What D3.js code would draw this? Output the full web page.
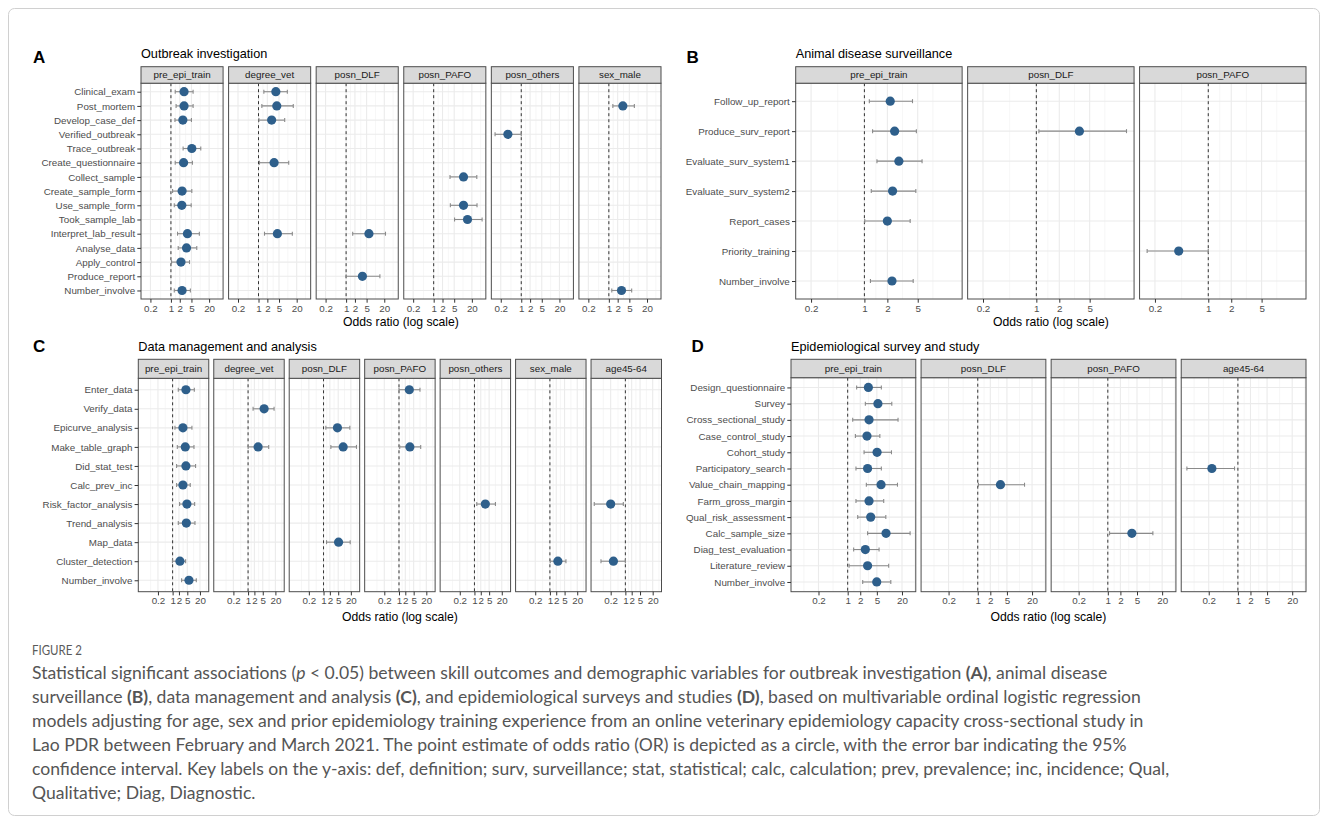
<!DOCTYPE html>
<html>
<head>
<meta charset="utf-8">
<script src="https://cdn.jsdelivr.net/npm/d3@7"></script>
<style>
  body { margin: 0; background: #fff; }
  svg text { font-family: "Liberation Sans", Arial, sans-serif; }
</style>
</head>
<body>
<svg id="fig" width="1328" height="824"></svg>
<script>
// x breaks shared by every facet (log scale)
const oddsBreaks = [0.2, 1, 2, 5, 20];

// A: outbreak investigation
const outbreakSkills = ['Clinical_exam', 'Post_mortem', 'Develop_case_def', 'Verified_outbreak',
  'Trace_outbreak', 'Create_questionnaire', 'Collect_sample', 'Create_sample_form',
  'Use_sample_form', 'Took_sample_lab', 'Interpret_lab_result', 'Analyse_data',
  'Apply_control', 'Produce_report', 'Number_involve'];
const outbreakVars = ['pre_epi_train', 'degree_vet', 'posn_DLF', 'posn_PAFO', 'posn_others', 'sex_male'];
// [skill, variable, OR, lower, upper]
const outbreakOR = [
  ['Clinical_exam', 'pre_epi_train', 2.8, 1.4, 5.7],
  ['Post_mortem', 'pre_epi_train', 2.8, 1.5, 5.7],
  ['Develop_case_def', 'pre_epi_train', 2.55, 1.37, 5.0],
  ['Trace_outbreak', 'pre_epi_train', 5.15, 2.6, 10.4],
  ['Create_questionnaire', 'pre_epi_train', 2.7, 1.4, 5.4],
  ['Create_sample_form', 'pre_epi_train', 2.4, 1.14, 5.15],
  ['Use_sample_form', 'pre_epi_train', 2.35, 1.3, 4.9],
  ['Interpret_lab_result', 'pre_epi_train', 3.65, 1.68, 9.3],
  ['Analyse_data', 'pre_epi_train', 3.4, 1.77, 7.6],
  ['Apply_control', 'pre_epi_train', 2.2, 1.05, 4.3],
  ['Number_involve', 'pre_epi_train', 2.4, 1.3, 4.6],
  ['Clinical_exam', 'degree_vet', 3.9, 1.52, 9.6],
  ['Post_mortem', 'degree_vet', 4.2, 1.3, 15.3],
  ['Develop_case_def', 'degree_vet', 2.8, 1.03, 7.8],
  ['Create_questionnaire', 'degree_vet', 3.4, 1.08, 10.7],
  ['Interpret_lab_result', 'degree_vet', 4.4, 1.6, 14.2],
  ['Interpret_lab_result', 'posn_DLF', 6.0, 1.68, 22],
  ['Produce_report', 'posn_DLF', 3.6, 1.0, 14.2],
  ['Collect_sample', 'posn_PAFO', 10.4, 3.6, 29.5],
  ['Use_sample_form', 'posn_PAFO', 10.4, 3.7, 30],
  ['Took_sample_lab', 'posn_PAFO', 14.2, 5.15, 44.7],
  ['Verified_outbreak', 'posn_others', 0.35, 0.128, 1.0],
  ['Post_mortem', 'sex_male', 3.0, 1.37, 7.4],
  ['Number_involve', 'sex_male', 2.7, 1.26, 6.0]
];

// B: animal disease surveillance
const survSkills = ['Follow_up_report', 'Produce_surv_report', 'Evaluate_surv_system1',
  'Evaluate_surv_system2', 'Report_cases', 'Priority_training', 'Number_involve'];
const survVars = ['pre_epi_train', 'posn_DLF', 'posn_PAFO'];
const survOR = [
  ['Follow_up_report', 'pre_epi_train', 2.18, 1.16, 4.27],
  ['Produce_surv_report', 'pre_epi_train', 2.49, 1.28, 4.8],
  ['Evaluate_surv_system1', 'pre_epi_train', 2.83, 1.46, 5.7],
  ['Evaluate_surv_system2', 'pre_epi_train', 2.34, 1.23, 4.72],
  ['Report_cases', 'pre_epi_train', 2.0, 1.01, 3.98],
  ['Number_involve', 'pre_epi_train', 2.3, 1.2, 4.36],
  ['Produce_surv_report', 'posn_DLF', 3.67, 1.08, 15.2],
  ['Priority_training', 'posn_PAFO', 0.41, 0.158, 1.0]
];

// C: data management and analysis
const dataSkills = ['Enter_data', 'Verify_data', 'Epicurve_analysis', 'Make_table_graph',
  'Did_stat_test', 'Calc_prev_inc', 'Risk_factor_analysis', 'Trend_analysis', 'Map_data',
  'Cluster_detection', 'Number_involve'];
const dataVars = ['pre_epi_train', 'degree_vet', 'posn_DLF', 'posn_PAFO', 'posn_others', 'sex_male', 'age45-64'];
const dataOR = [
  ['Enter_data', 'pre_epi_train', 4.3, 1.86, 10.8],
  ['Epicurve_analysis', 'pre_epi_train', 3.1, 1.29, 8.3],
  ['Make_table_graph', 'pre_epi_train', 4.0, 1.67, 10.4],
  ['Did_stat_test', 'pre_epi_train', 4.3, 1.55, 12.4],
  ['Calc_prev_inc', 'pre_epi_train', 3.1, 1.55, 6.9],
  ['Risk_factor_analysis', 'pre_epi_train', 4.8, 2.15, 11.2],
  ['Trend_analysis', 'pre_epi_train', 4.5, 1.86, 11.6],
  ['Cluster_detection', 'pre_epi_train', 2.23, 0.98, 4.16],
  ['Number_involve', 'pre_epi_train', 6.0, 2.68, 13.4],
  ['Verify_data', 'degree_vet', 5.8, 1.73, 17.3],
  ['Make_table_graph', 'degree_vet', 3.0, 1.01, 9.6],
  ['Epicurve_analysis', 'posn_DLF', 4.6, 1.29, 17.9],
  ['Make_table_graph', 'posn_DLF', 8.6, 2.23, 37],
  ['Map_data', 'posn_DLF', 5.2, 1.39, 18.6],
  ['Enter_data', 'posn_PAFO', 3.1, 1.0, 10],
  ['Make_table_graph', 'posn_PAFO', 3.3, 1.08, 10.8],
  ['Risk_factor_analysis', 'posn_others', 3.3, 1.29, 10],
  ['Cluster_detection', 'sex_male', 2.4, 1.04, 5.8],
  ['Risk_factor_analysis', 'age45-64', 0.2, 0.033, 0.8],
  ['Cluster_detection', 'age45-64', 0.27, 0.069, 1.0]
];

// D: epidemiological survey and study
const studySkills = ['Design_questionnaire', 'Survey', 'Cross_sectional_study', 'Case_control_study',
  'Cohort_study', 'Participatory_search', 'Value_chain_mapping', 'Farm_gross_margin',
  'Qual_risk_assessment', 'Calc_sample_size', 'Diag_test_evaluation', 'Literature_review',
  'Number_involve'];
const studyVars = ['pre_epi_train', 'posn_DLF', 'posn_PAFO', 'age45-64'];
const studyOR = [
  ['Design_questionnaire', 'pre_epi_train', 3.13, 1.64, 6.4],
  ['Survey', 'pre_epi_train', 5.3, 2.65, 11.4],
  ['Cross_sectional_study', 'pre_epi_train', 3.25, 1.32, 16.1],
  ['Case_control_study', 'pre_epi_train', 2.9, 1.53, 5.9],
  ['Cohort_study', 'pre_epi_train', 5.06, 2.47, 11.2],
  ['Participatory_search', 'pre_epi_train', 3.0, 1.58, 6.4],
  ['Value_chain_mapping', 'pre_epi_train', 6.3, 2.8, 15.6],
  ['Farm_gross_margin', 'pre_epi_train', 3.25, 1.58, 7.3],
  ['Qual_risk_assessment', 'pre_epi_train', 3.56, 1.74, 8.2],
  ['Calc_sample_size', 'pre_epi_train', 8.3, 3.0, 31.3],
  ['Diag_test_evaluation', 'pre_epi_train', 2.65, 1.39, 5.65],
  ['Literature_review', 'pre_epi_train', 3.0, 1.08, 9.6],
  ['Number_involve', 'pre_epi_train', 4.97, 2.29, 10.8],
  ['Value_chain_mapping', 'posn_DLF', 3.5, 1.04, 13.2],
  ['Calc_sample_size', 'posn_PAFO', 3.77, 1.1, 12.0],
  ['Participatory_search', 'age45-64', 0.238, 0.06, 0.83]
];

const captionLines = [
  [['Statistical significant associations ('], ['p', 'i'], [' < 0.05) between skill outcomes and demographic variables for outbreak investigation '], ['(A)', 'b'], [', animal disease']],
  [['surveillance '], ['(B)', 'b'], [', data management and analysis '], ['(C)', 'b'], [', and epidemiological surveys and studies '], ['(D)', 'b'], [', based on multivariable ordinal logistic regression']],
  [['models adjusting for age, sex and prior epidemiology training experience from an online veterinary epidemiology capacity cross-sectional study in']],
  [['Lao PDR between February and March 2021. The point estimate of odds ratio (OR) is depicted as a circle, with the error bar indicating the 95%']],
  [['confidence interval. Key labels on the y-axis: def, definition; surv, surveillance; stat, statistical; calc, calculation; prev, prevalence; inc, incidence; Qual,']],
  [['Qualitative; Diag, Diagnostic.']]
];

const svg = d3.select('#fig');

svg.append('rect')
    .attr('x', 8.5).attr('y', 8.5)
    .attr('width', 1311).attr('height', 807)
    .attr('rx', 6)
    .attr('fill', 'none')
    .attr('stroke', '#d0d0d0');

const FONT = 9.8;
const POINT = '#2e5f8b';

function drawFigure(cfg, skills, vars, rows) {
  const g = svg.append('g');
  const n = vars.length;
  const pw = (cfg.right - cfg.left - cfg.gap * (n - 1)) / n;
  const plotTop = cfg.stripTop + cfg.stripH;

  // shared log domain, expanded 5% like ggplot
  const lo = d3.min(rows, (d) => Math.log10(d[3]));
  const hi = d3.max(rows, (d) => Math.log10(d[4]));
  const pad = (hi - lo) * 0.05;
  const domain = [Math.pow(10, lo - pad), Math.pow(10, hi + pad)];

  const y = d3.scalePoint().domain(skills).range([plotTop, cfg.bottom]).padding(0.6);

  const breaks = oddsBreaks.filter((b) => b >= domain[0] && b <= domain[1]);
  const lb = breaks.map(Math.log10);
  const ext = [lb[0] - (lb[1] - lb[0])].concat(lb, [lb[lb.length - 1] + (lb[lb.length - 1] - lb[lb.length - 2])]);
  const minor = d3.pairs(ext)
      .map((p) => Math.pow(10, (p[0] + p[1]) / 2))
      .filter((v) => v >= domain[0] && v <= domain[1]);

  vars.forEach((v, i) => {
    const x0 = cfg.left + i * (pw + cfg.gap);
    const x = d3.scaleLog().domain(domain).range([x0, x0 + pw]);
    const p = g.append('g');

    p.append('rect')
        .attr('x', x0).attr('y', plotTop)
        .attr('width', pw).attr('height', cfg.bottom - plotTop)
        .attr('fill', '#fff');

    p.selectAll('.minor').data(minor).enter().append('line')
        .attr('x1', (d) => x(d)).attr('x2', (d) => x(d))
        .attr('y1', plotTop).attr('y2', cfg.bottom)
        .attr('stroke', '#f0f0f0').attr('stroke-width', 0.6);

    p.selectAll('.major').data(breaks).enter().append('line')
        .attr('x1', (d) => x(d)).attr('x2', (d) => x(d))
        .attr('y1', plotTop).attr('y2', cfg.bottom)
        .attr('stroke', '#ebebeb').attr('stroke-width', 1.1);

    p.selectAll('.hgrid').data(skills).enter().append('line')
        .attr('x1', x0).attr('x2', x0 + pw)
        .attr('y1', (d) => y(d)).attr('y2', (d) => y(d))
        .attr('stroke', '#ebebeb').attr('stroke-width', 1.1);

    p.append('line')
        .attr('x1', x(1)).attr('x2', x(1))
        .attr('y1', plotTop).attr('y2', cfg.bottom)
        .attr('stroke', '#333').attr('stroke-width', 1)
        .attr('stroke-dasharray', '3,3');

    const est = rows.filter((d) => d[1] === v);
    const bars = p.selectAll('.bar').data(est).enter().append('g');
    bars.append('line')
        .attr('x1', (d) => x(d[3])).attr('x2', (d) => x(d[4]))
        .attr('y1', (d) => y(d[0])).attr('y2', (d) => y(d[0]))
        .attr('stroke', '#8a8a8a').attr('stroke-width', 1.1);
    [3, 4].forEach((k) => {
      bars.append('line')
          .attr('x1', (d) => x(d[k])).attr('x2', (d) => x(d[k]))
          .attr('y1', (d) => y(d[0]) - 2).attr('y2', (d) => y(d[0]) + 2)
          .attr('stroke', '#8a8a8a').attr('stroke-width', 1.1);
    });
    bars.append('circle')
        .attr('cx', (d) => x(d[2])).attr('cy', (d) => y(d[0]))
        .attr('r', 4.6)
        .attr('fill', POINT);

    p.append('rect')
        .attr('x', x0).attr('y', plotTop)
        .attr('width', pw).attr('height', cfg.bottom - plotTop)
        .attr('fill', 'none').attr('stroke', '#4d4d4d').attr('stroke-width', 1);

    // facet strip
    p.append('rect')
        .attr('x', x0).attr('y', cfg.stripTop)
        .attr('width', pw).attr('height', cfg.stripH)
        .attr('fill', '#d9d9d9').attr('stroke', '#4d4d4d').attr('stroke-width', 1);
    p.append('text')
        .attr('x', x0 + pw / 2).attr('y', cfg.stripTop + cfg.stripH / 2)
        .attr('dy', '0.35em')
        .attr('text-anchor', 'middle')
        .attr('font-size', FONT)
        .attr('fill', '#1a1a1a')
        .text(v);

    const ax = p.append('g')
        .attr('transform', `translate(0,${cfg.bottom})`)
        .call(d3.axisBottom(x).tickValues(breaks).tickFormat((d) => String(d))
            .tickSize(3.7).tickPadding(2));
    styleAxis(ax);

    if (i === 0) {
      const ay = p.append('g')
          .attr('transform', `translate(${x0},0)`)
          .call(d3.axisLeft(y).tickSize(3.7).tickPadding(2.2));
      styleAxis(ay);
    }
  });

  g.append('text')
      .attr('x', cfg.letterX).attr('y', cfg.letterY)
      .attr('font-size', 17).attr('font-weight', 'bold').attr('fill', '#000')
      .text(cfg.letter);
  g.append('text')
      .attr('x', cfg.left).attr('y', cfg.titleY)
      .attr('font-size', 12.7).attr('fill', '#000')
      .text(cfg.title);
  g.append('text')
      .attr('x', (cfg.left + cfg.right) / 2).attr('y', cfg.axisTitleY)
      .attr('text-anchor', 'middle')
      .attr('font-size', 12.2).attr('fill', '#000')
      .text('Odds ratio (log scale)');
}

function styleAxis(ax) {
  ax.select('.domain').remove();
  ax.selectAll('.tick line').attr('stroke', '#333');
  ax.selectAll('.tick text')
      .attr('fill', '#4d4d4d')
      .attr('font-size', FONT)
      .attr('font-family', '"Liberation Sans", Arial, sans-serif');
}

drawFigure({letter: 'A', title: 'Outbreak investigation', left: 141, right: 661, gap: 5.5,
  stripTop: 66.7, stripH: 16.5, bottom: 299, letterX: 33, letterY: 62.5, titleY: 58,
  axisTitleY: 325.5}, outbreakSkills, outbreakVars, outbreakOR);

drawFigure({letter: 'B', title: 'Animal disease surveillance', left: 795.7, right: 1306, gap: 5.5,
  stripTop: 66.7, stripH: 16.5, bottom: 299, letterX: 686.5, letterY: 62.5, titleY: 58,
  axisTitleY: 325.5}, survSkills, survVars, survOR);

drawFigure({letter: 'C', title: 'Data management and analysis', left: 138.3, right: 661.5, gap: 5,
  stripTop: 359.3, stripH: 19, bottom: 591.7, letterX: 33, letterY: 351.5, titleY: 351,
  axisTitleY: 621}, dataSkills, dataVars, dataOR);

drawFigure({letter: 'D', title: 'Epidemiological survey and study', left: 791, right: 1306, gap: 5.3,
  stripTop: 359.3, stripH: 18.4, bottom: 591.7, letterX: 691.5, letterY: 351.5, titleY: 351,
  axisTitleY: 621}, studySkills, studyVars, studyOR);

// caption
const cap = svg.append('g');
cap.append('text')
    .attr('x', 32).attr('y', 655)
    .attr('font-size', 13)
    .attr('textLength', 50)
    .attr('lengthAdjust', 'spacingAndGlyphs')
    .attr('fill', '#5a5a5a')
    .style('font-family', 'Lato, "Open Sans", sans-serif')
    .text('FIGURE 2');

const lineNodes = captionLines.map((parts, i) => {
  const t = cap.append('text')
      .attr('x', 32).attr('y', 679 + i * 24)
      .attr('font-size', 16)
      .attr('fill', '#555')
      .style('font-family', 'Lato, "Open Sans", sans-serif');
  parts.forEach((part) => {
    const s = t.append('tspan').text(part[0]);
    if (part[1] === 'i') s.attr('font-style', 'italic');
    if (part[1] === 'b') s.attr('font-weight', 'bold');
  });
  return t;
});
// fit the font size so the first line spans the same width as the reference
const w0 = lineNodes[0].node().getComputedTextLength();
const capSize = 16 * 1076 / w0;
lineNodes.forEach((t) => t.attr('font-size', capSize));
</script>
</body>
</html>
